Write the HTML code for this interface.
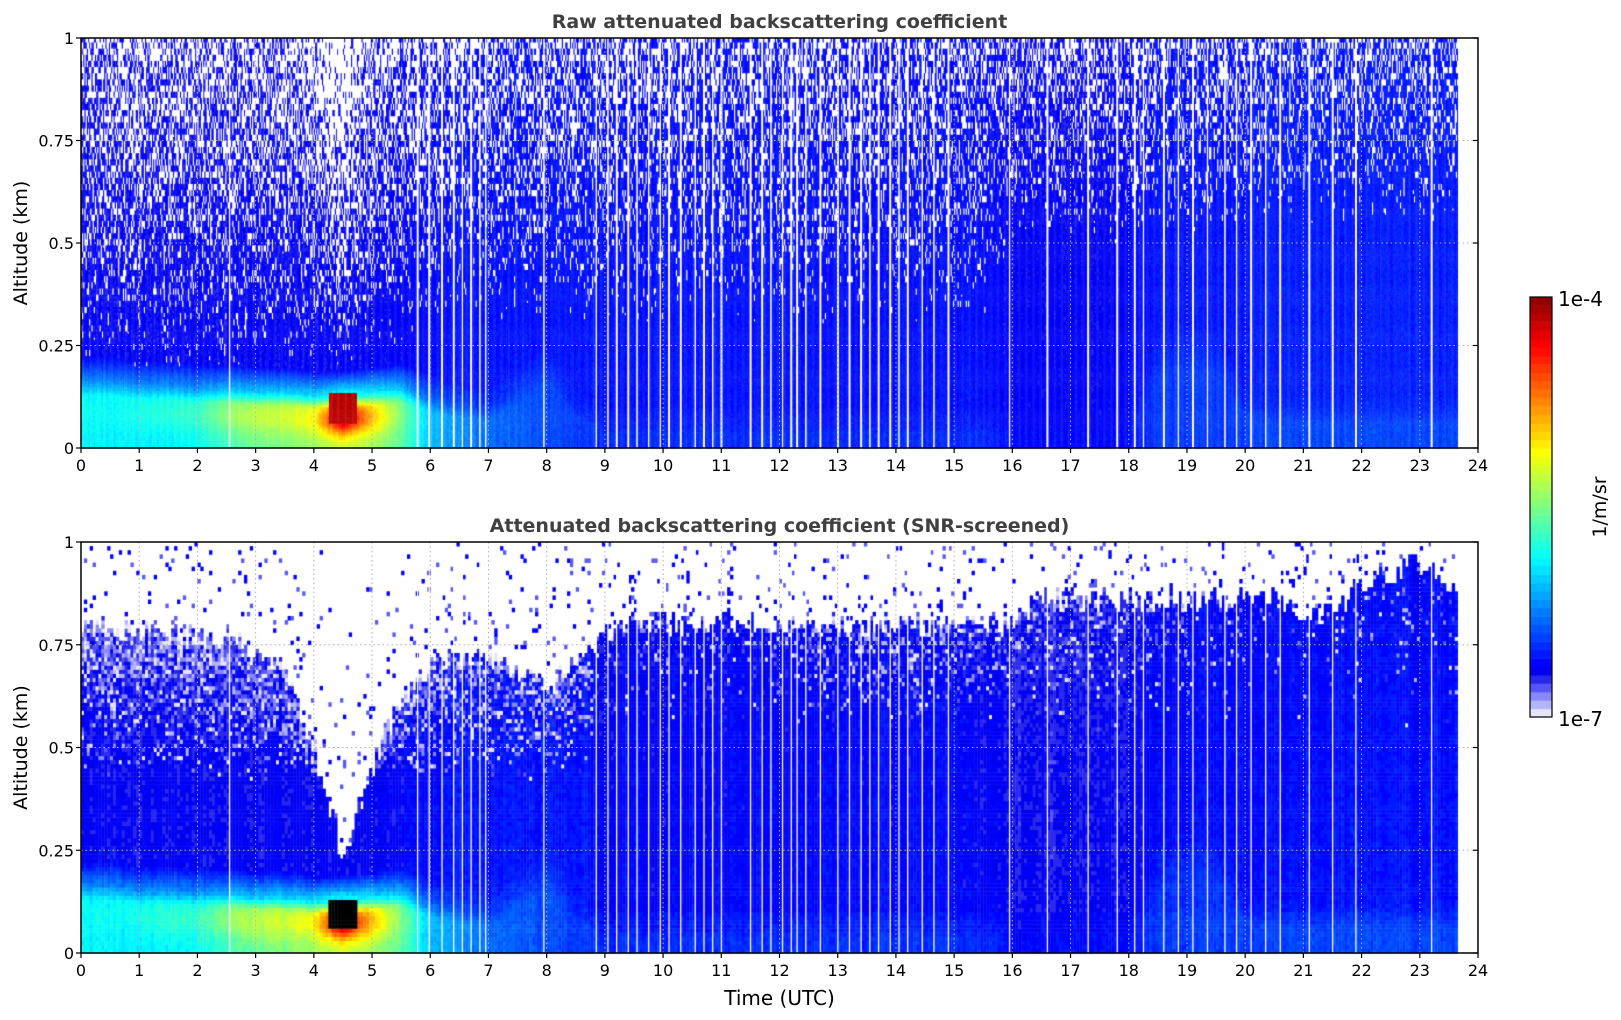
<!DOCTYPE html>
<html><head><meta charset="utf-8">
<style>
html,body{margin:0;padding:0;background:#fff;}
#wrap{position:relative;width:1621px;height:1020px;overflow:hidden;}
canvas,svg{position:absolute;left:0;top:0;}
text{font-family:"DejaVu Sans","Liberation Sans",sans-serif;}
</style></head>
<body>
<div id="wrap">
<canvas id="cv" width="1621" height="1020"></canvas>
<svg id="ov" width="1621" height="1020"></svg>
</div>
<script>
// ---- data (per half-hour) ----
const hours = [0,0.5,1,1.5,2,2.5,3,3.5,4,4.5,5,5.5,6,6.5,7,7.5,8,8.5,9,9.5,10,10.5,11,11.5,12,12.5,13,13.5,14,14.5,15,15.5,16,16.5,17,17.5,18,18.5,19,19.5,20,20.5,21,21.5,22,22.5,23,23.5];
const blTop   = [0.17,0.17,0.16,0.16,0.15,0.15,0.14,0.14,0.13,0.13,0.14,0.15,0.12,0.10,0.09,0.14,0.20,0.10,0.05,0.05,0.05,0.05,0.05,0.05,0.05,0.05,0.05,0.05,0.05,0.05,0.05,0.05,0.05,0.05,0.05,0.05,0.05,0.22,0.25,0.24,0.10,0.08,0.08,0.08,0.08,0.08,0.08,0.08];
const surfLog = [-5.9,-5.9,-5.9,-5.9,-5.85,-5.7,-5.55,-5.5,-5.4,-5.3,-5.4,-5.6,-6.05,-6.2,-6.3,-6.35,-6.4,-6.45,-6.5,-6.5,-6.5,-6.5,-6.5,-6.5,-6.5,-6.5,-6.5,-6.5,-6.5,-6.5,-6.5,-6.5,-6.6,-6.6,-6.6,-6.6,-6.6,-6.45,-6.45,-6.45,-6.45,-6.42,-6.42,-6.42,-6.42,-6.42,-6.42,-6.42];
const peakLog = [-5.85,-5.85,-5.8,-5.75,-5.7,-5.45,-5.3,-5.25,-5.1,-4.1,-4.9,-5.5,-6.05,-6.2,-6.3,-6.35,-6.4,-6.45,-6.5,-6.5,-6.5,-6.5,-6.5,-6.5,-6.5,-6.5,-6.5,-6.5,-6.5,-6.5,-6.5,-6.5,-6.6,-6.6,-6.6,-6.6,-6.6,-6.45,-6.45,-6.45,-6.45,-6.42,-6.42,-6.42,-6.42,-6.42,-6.42,-6.42];
const midLog  = [-6.66,-6.66,-6.66,-6.66,-6.66,-6.66,-6.66,-6.66,-6.66,-6.66,-6.66,-6.64,-6.6,-6.57,-6.57,-6.57,-6.57,-6.57,-6.58,-6.58,-6.58,-6.58,-6.58,-6.58,-6.58,-6.58,-6.58,-6.58,-6.58,-6.58,-6.58,-6.6,-6.64,-6.64,-6.64,-6.64,-6.63,-6.56,-6.56,-6.56,-6.57,-6.54,-6.54,-6.54,-6.54,-6.54,-6.54,-6.54];
const noiseTop   = [0.6,0.6,0.6,0.6,0.6,0.6,0.6,0.6,0.7,1.0,0.65,0.6,0.55,0.5,0.5,0.5,0.5,0.5,0.45,0.45,0.45,0.45,0.45,0.45,0.45,0.45,0.45,0.45,0.45,0.45,0.45,0.45,0.45,0.45,0.45,0.45,0.45,0.45,0.45,0.45,0.42,0.4,0.4,0.4,0.4,0.4,0.4,0.4];
const noiseStart = [0.2,0.2,0.2,0.2,0.2,0.2,0.2,0.2,0.2,0.2,0.25,0.25,0.3,0.3,0.3,0.3,0.3,0.3,0.3,0.3,0.3,0.3,0.3,0.3,0.3,0.3,0.3,0.3,0.3,0.3,0.3,0.3,0.5,0.5,0.5,0.5,0.5,0.5,0.5,0.5,0.55,0.55,0.55,0.55,0.55,0.55,0.55,0.55];
const screenTop  = [0.8,0.8,0.78,0.78,0.77,0.77,0.72,0.7,0.5,0.23,0.45,0.62,0.7,0.72,0.72,0.68,0.65,0.7,0.78,0.8,0.8,0.8,0.8,0.8,0.8,0.8,0.8,0.8,0.8,0.8,0.8,0.8,0.8,0.86,0.86,0.86,0.86,0.86,0.86,0.86,0.86,0.87,0.83,0.82,0.9,0.92,0.95,0.9];
const lavFrac    = [0.85,0.85,0.85,0.85,0.85,0.85,0.85,0.85,0.9,1.0,0.9,0.8,0.75,0.7,0.7,0.7,0.7,0.6,0.15,0.15,0.15,0.15,0.15,0.15,0.2,0.4,0.5,0.5,0.5,0.5,0.5,0.5,0.35,0.35,0.35,0.35,0.3,0.25,0.2,0.15,0.1,0.1,0.1,0.1,0.1,0.1,0.1,0.1];
const gapTimes = [2.55,5.78,5.98,6.2,6.4,6.55,6.7,6.85,6.95,7.95,8.85,9.05,9.2,9.4,9.55,9.75,9.95,10.1,10.3,10.55,10.7,10.85,11.0,11.5,11.7,11.85,12.05,12.2,12.3,12.45,12.7,13.0,13.2,13.4,13.55,13.7,13.9,14.05,14.2,14.45,14.65,14.9,15.95,16.6,17.3,17.8,18.1,18.25,18.6,18.85,19.1,19.35,19.65,19.85,20.1,20.35,20.6,21.1,21.5,21.9,23.2];
const dataEnd = 23.65;
const xTicks = [0,1,2,3,4,5,6,7,8,9,10,11,12,13,14,15,16,17,18,19,20,21,22,23,24];
const yTicks = [0,0.25,0.5,0.75,1];
const yTickLabels = ["0","0.25","0.5","0.75","1"];

// ---- layout ----
const X0=81, X1=1478;
const P1={top:38,bot:448}, P2={top:542,bot:953};
const CB={x:1530,w:22,top:297,bot:717};
const xs=t=>X0+(X1-X0)*t/24;
const ys=(P,z)=>P.bot-(P.bot-P.top)*z;

function interp(arr,t){
  const f=t/0.5; const i=Math.min(Math.floor(f),hours.length-1); const j=Math.min(i+1,hours.length-1);
  const w=f-i; return arr[i]*(1-w)+arr[j]*w;
}
function hash(a,b,c){let h=(a*374761393+b*668265263+c*2147483647)|0;h=(h^(h>>>13))*1274126177|0;h=h^(h>>>16);return ((h>>>0)%100000)/100000;}

function jet(f){
  const r=Math.min(1,Math.max(0,1.5-Math.abs(4*f-3)));
  const g=Math.min(1,Math.max(0,1.5-Math.abs(4*f-2)));
  const b=Math.min(1,Math.max(0,1.5-Math.abs(4*f-1)));
  return [r*255|0,g*255|0,b*255|0];
}
const lows=[[230,230,248],[180,180,250],[135,135,250],[85,85,245],[40,40,235]];
function cmap(v){
  let f=(v+7)/3; f=Math.max(0,Math.min(0.999,f));
  const band=Math.floor(f*50);
  if(band<5) return lows[band];
  return jet(0.11+ (band/50-0.1)*0.89/0.9);
}
function gapAt(t){for(const g of gapTimes){if(Math.abs(t-g)<0.012)return true;}return false;}

function baseVal(t,z,i,j){
  const bl=interp(blTop,t), s=interp(surfLog,t), p=interp(peakLog,t), m=interp(midLog,t);
  let v;
  if(z<bl){
    const zz=z/bl;
    const bump=Math.exp(-Math.pow((zz-0.55)/0.3,2));
    v=s+(p-s)*bump;
    if(zz>0.75) v=v+(m-v)*((zz-0.75)/0.25)*0.5;
  } else if(z<bl+0.06){
    const w=(z-bl)/0.06; const top=(s+(p-s)*0.3)*0.5+m*0.5;
    v=top*(1-w)+m*w;
  } else v=m-0.04*(z-0.3);
  if(t>4.25&&t<4.75&&z>0.06&&z<0.135) v=Math.max(v,-4.15);
  v+= (hash(i,j,7)-0.5)*0.1 + (hash(i,0,3)-0.5)*0.08;
  return v;
}

const cv=document.getElementById('cv'); const ctx=cv.getContext('2d');
// top panel
(function(){
  const dt=0.02, dz=0.005;
  for(let i=0;i*dt<dataEnd;i++){
    const t=i*dt+dt/2; if(gapAt(t)) continue;
    const ns=interp(noiseStart,t), nt=interp(noiseTop,t);
    const colBoost=(hash(i,1,9)-0.5)*0.3;
    for(let j=0;j*dz<1;j++){
      const z=j*dz+dz/2;
      let v=baseVal(t,z,i,j);
      let white=false;
      if(z>ns){const p=Math.min(1,nt*Math.pow((z-ns)/(1-ns),0.9)*(1+colBoost)); const r=hash(i,Math.floor(j/3)+ (i%5)*7,11);
        if(r<p) white=true; }
      let c=white?[255,255,255]:cmap(v);
      ctx.fillStyle=`rgb(${c[0]},${c[1]},${c[2]})`;
      const xa=xs(i*dt), xb=xs(Math.min((i+1)*dt,dataEnd));
      ctx.fillRect(xa,ys(P1,(j+1)*dz),xb-xa+0.4,ys(P1,j*dz)-ys(P1,(j+1)*dz)+0.4);
    }
  }
  ctx.fillStyle='#fff';
  for(const g of gapTimes){ctx.fillRect(xs(g)-0.5,P1.top,1.3,P1.bot-P1.top);}
})();
// bottom panel
(function(){
  const dt=0.05, dz=0.01;
  for(let i=0;i*dt<dataEnd;i++){
    const t=i*dt+dt/2;
    const st=interp(screenTop,t)+(hash(i,3,31)-0.5)*0.06, lf=interp(lavFrac,t);
    const lavStart=t>8.8?0.55:0.42;
    for(let j=0;j*dz<1;j++){
      const z=j*dz+dz/2;
      let c=null;
      if(z>st){
        if(hash(i,j,21)<0.07*(1-(z-st)*1.5)) c=hash(i,j,22)<0.6?[0,0,255]:[90,90,245];
      } else {
        let v=baseVal(t,z,i*2,j*2);
        if(t>8.7&&z>0.1) v-=0.04;
        if(z>lavStart){const p=lf*Math.min(1,(z-lavStart)/Math.max(0.05,st-lavStart)); if(hash(i,j,23)<p) v=-7+hash(i,j,24)*0.3;}
        if(t>4.1&&t<4.9&&z>0.2){const dd=Math.abs(t-4.5)/0.4; const floor=0.23+dd*0.5; if(z>floor) v=-7+0.1+ (z<floor+0.1?0.3:0); }
        if(v>-4.35) c=[0,0,0]; else c=cmap(v);
      }
      if(!c) continue;
      ctx.fillStyle=`rgb(${c[0]},${c[1]},${c[2]})`;
      const xa=xs(i*dt), xb=xs(Math.min((i+1)*dt,dataEnd));
      ctx.fillRect(xa,ys(P2,(j+1)*dz),xb-xa+0.4,ys(P2,j*dz)-ys(P2,(j+1)*dz)+0.4);
    }
  }
  ctx.fillStyle='#fff';
  for(const g of gapTimes){ctx.fillRect(xs(g)-0.5,P2.top,1.3,P2.bot-P2.top);}
})();
// colorbar
for(let k=0;k<50;k++){
  const v=-7+(k+0.5)*3/50; const c=cmap(v);
  ctx.fillStyle=`rgb(${c[0]},${c[1]},${c[2]})`;
  const y0=CB.bot-(k+1)*(CB.bot-CB.top)/50;
  ctx.fillRect(CB.x,y0,CB.w,(CB.bot-CB.top)/50+0.5);
}

// overlay
const NS='http://www.w3.org/2000/svg';
const ov=document.getElementById('ov');
function el(tag,attrs,parent){const e=document.createElementNS(NS,tag);for(const k in attrs)e.setAttribute(k,attrs[k]);(parent||ov).appendChild(e);return e;}
function panel(P,title,name,showXTitle){
  const g=el('g',{});
  
  
  for(const t of xTicks){ if(t===0||t===24)continue;
    const ln=el('line',{x1:xs(t),x2:xs(t),y1:P.top,y2:P.bot,stroke:'#b0b0b0','stroke-width':1,'stroke-dasharray':'1.5,3'},g);
    
    
  }
  for(const z of yTicks){ if(z===0||z===1)continue;
    const ln=el('line',{x1:X0,x2:X1,y1:ys(P,z),y2:ys(P,z),stroke:'#b0b0b0','stroke-width':1,'stroke-dasharray':'1.5,3'},g);
    
    
  }
  const fr=el('rect',{x:X0,y:P.top,width:X1-X0,height:P.bot-P.top,fill:'none',stroke:'#000','stroke-width':1.5},g);
  
  
  xTicks.forEach(t=>{
    el('line',{x1:xs(t),x2:xs(t),y1:P.bot,y2:P.bot+5,stroke:'#000','stroke-width':1.2},g);
    const tx=el('text',{x:xs(t),y:P.bot+23,'font-size':16,'text-anchor':'middle',fill:'#000'},g);
    tx.textContent=t;
    
    
  });
  yTicks.forEach((z,k)=>{
    el('line',{x1:X0-5,x2:X0,y1:ys(P,z),y2:ys(P,z),stroke:'#000','stroke-width':1.2},g);
    el('line',{x1:X1-5,x2:X1,y1:ys(P,z),y2:ys(P,z),stroke:'#000','stroke-width':1.2},g);
    const tx=el('text',{x:X0-7,y:ys(P,z)+6,'font-size':16,'text-anchor':'end',fill:'#000'},g);
    tx.textContent=yTickLabels[k];
    
    
  });
  const tt=el('text',{x:(X0+X1)/2,y:P.top-10,'font-size':19,'font-weight':'bold','text-anchor':'middle',fill:'#404040'},g);
  tt.textContent=title;
  
  
  const yt=el('text',{x:0,y:0,'font-size':19,'text-anchor':'middle',fill:'#000',transform:`translate(27,${(P.top+P.bot)/2}) rotate(-90)`},g);
  yt.textContent='Altitude (km)';
  
  
  if(showXTitle){
    const xt=el('text',{x:(X0+X1)/2,y:P.bot+52,'font-size':20,'text-anchor':'middle',fill:'#000'},g);
    xt.textContent='Time (UTC)';
    
    
  }
}
panel(P1,'Raw attenuated backscattering coefficient','raw-backscatter-panel',false);
panel(P2,'Attenuated backscattering coefficient (SNR-screened)','screened-backscatter-panel',true);
const cbf=el('rect',{x:CB.x,y:CB.top,width:CB.w,height:CB.bot-CB.top,fill:'none',stroke:'#000','stroke-width':1.2});


const c1=el('text',{x:CB.x+CB.w+6,y:CB.top+9,'font-size':20,fill:'#000'});c1.textContent='1e-4';


const c2=el('text',{x:CB.x+CB.w+6,y:CB.bot+9,'font-size':20,fill:'#000'});c2.textContent='1e-7';


const cu=el('text',{x:0,y:0,'font-size':19,'text-anchor':'middle',fill:'#000',transform:`translate(1606,${(CB.top+CB.bot)/2}) rotate(-90)`});cu.textContent='1/m/sr';


</script>
</body></html>
